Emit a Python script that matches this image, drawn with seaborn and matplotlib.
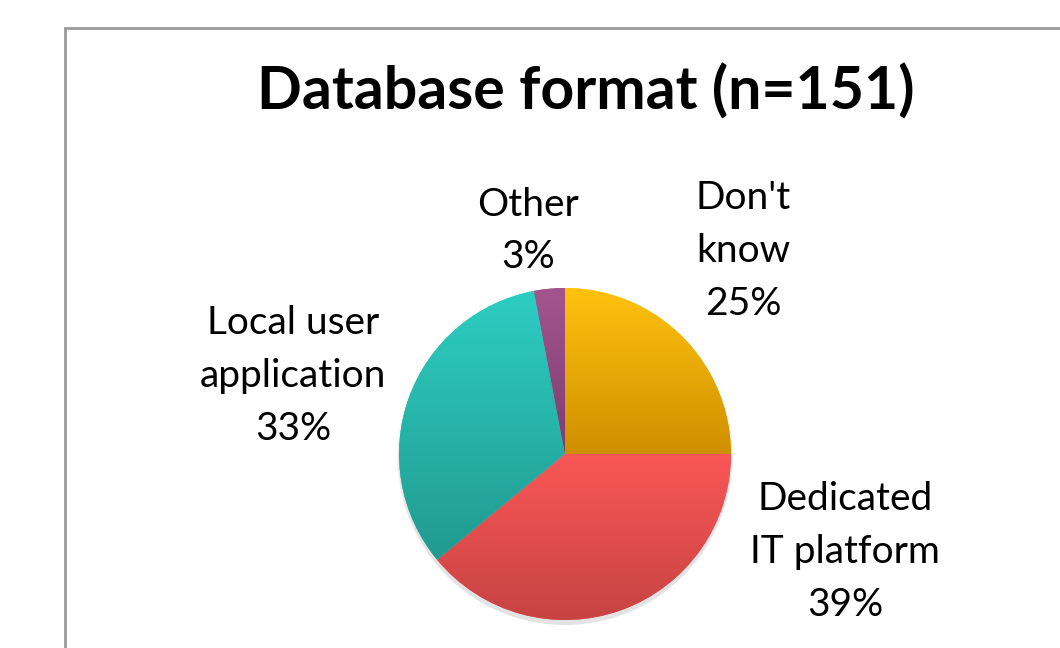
import numpy as np
import matplotlib
matplotlib.use("Agg")
import matplotlib.pyplot as plt
import seaborn as sns
from matplotlib.colors import LinearSegmentedColormap
from matplotlib.patches import Rectangle, Circle

# ---- data ----
categories = ["Don't\nknow", "Dedicated\nIT platform", "Local user\napplication", "Other"]
percent = [25, 39, 33, 3]
top_colors = ["#FFC20E", "#FA5656", "#2DCDC2", "#A4558F"]
bottom_colors = ["#CF8F00", "#C64443", "#229A90", "#7C3C6E"]
title = "Database format (n=151)"

sns.set_theme(style="white")
plt.rcParams['font.family'] = ['Lato', 'DejaVu Sans']

W, H = 1060, 648
fig = plt.figure(figsize=(W / 100, H / 100), dpi=100)
ax = fig.add_axes([0, 0, 1, 1])
ax.set_xlim(0, W)
ax.set_ylim(0, H)
ax.set_aspect('equal')
ax.axis('off')

# chart area border (extends past the image edge)
ax.add_patch(Rectangle((65, -20), 1100, H - 28 + 20, fill=False,
                       edgecolor="#9a9a9a", lw=2))

cx, cy, R = 565, H - 454, 166

# soft shadow
for k, a in enumerate([0.035, 0.035, 0.04]):
    ax.add_patch(Circle((cx, cy - 3 - k), R + 2 - k, color="black", alpha=a, lw=0))

wedges, _ = ax.pie(percent, startangle=90, counterclock=False, radius=R,
                   center=(cx, cy), colors=top_colors,
                   wedgeprops=dict(linewidth=0))

grad = np.linspace(0, 1, 256).reshape(-1, 1)
for w, ct, cb in zip(wedges, top_colors, bottom_colors):
    ext = w.get_path().get_extents()
    cmap = LinearSegmentedColormap.from_list("g", [cb, ct])
    im = ax.imshow(grad, cmap=cmap, extent=[ext.x0, ext.x1, ext.y0, ext.y1],
                   origin='lower', aspect='auto', zorder=w.get_zorder() + 0.1,
                   interpolation='bilinear')
    im.set_clip_path(w)

ax.set_xlim(0, W)
ax.set_ylim(0, H)

# labels
label_pos = [(743, 251), (845, 552), (293, 376), (528, 231)]
for name, p, (lx, ly) in zip(categories, percent, label_pos):
    ax.text(lx, H - ly, f"{name}\n{p}%", ha='center', va='center',
            fontsize=28, color="#000000", linespacing=1.57)

ax.text(586, H - 92, title, ha='center', va='center', fontsize=42.5,
        fontweight='bold', color='#000000')

fig.savefig("out.png", dpi=100, facecolor="white")
